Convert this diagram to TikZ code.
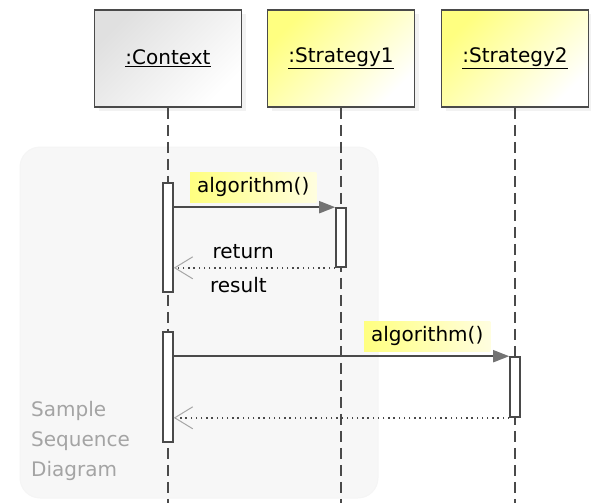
\documentclass[tikz,border=0pt]{standalone}
\usepackage{fontspec}
\setmainfont{DejaVu Sans}
\usetikzlibrary{arrows.meta,shadows}

\definecolor{umlline}{HTML}{4A4A4A}
\definecolor{umlyellow}{HTML}{FFFF80}
\definecolor{umlpale}{HTML}{FFFEE0}
\definecolor{umlgray}{HTML}{E0E0E0}
\definecolor{umlback}{HTML}{F7F7F7}
\definecolor{umlnote}{HTML}{A4A4A4}

\begin{document}
\begin{tikzpicture}[
  x=1pt,y=-1pt,
  font=\fontsize{20}{24}\selectfont,
  object/.style={draw=umlline,line width=1.8pt,minimum width=147pt,minimum height=97pt,
                 inner sep=0pt,drop shadow={shadow xshift=4pt,shadow yshift=-4pt,opacity=0.1}},
  client/.style={object,top color=umlgray,middle color=black!2,bottom color=white,shading angle=45},
  strategy/.style={object,top color=umlyellow,middle color=umlpale!60!white,bottom color=white,shading angle=45},
  lifeline/.style={draw=umlline,line width=2pt,dash pattern=on 11pt off 6pt},
  bar/.style={draw=umlline,fill=white,line width=1.6pt,minimum width=10pt,inner sep=0pt},
  call/.style={draw=umlline,line width=1.8pt,
               -{Triangle[length=16pt,width=12pt,color=black!55]}},
  reply/.style={draw=umlline,line width=1.6pt,dash pattern=on 1.5pt off 3.7pt,
                -{Straight Barb[length=18pt,width=22pt,line width=1pt,color=black!35]}},
  msg/.style={left color=umlyellow,right color=umlpale,inner xsep=7pt,minimum height=30pt,
              anchor=south east,xshift=-18pt,yshift=4pt},
  note/.style={text=umlnote,align=left,anchor=north west,inner sep=0pt,
               font=\fontsize{20}{30}\selectfont},
  backdrop/.style={fill=umlback,draw=black!4,line width=1pt,rounded corners=20pt}
]
\useasboundingbox (0,0) rectangle (591,503);

% sample frame behind the diagram
\node[backdrop,minimum width=358pt,minimum height=351pt] (frame) at (199,322.5) {};
\node[note] (caption) at (31,401) {Sample\\Sequence\\Diagram};

% objects and lifelines
\node[client] (ctx) at (168,58.5) {\underline{:Context}};
\node[strategy] (st1) at (341,58.5) {\underline{:Strategy1}};
\node[strategy] (st2) at (515,58.5) {\underline{:Strategy2}};
\coordinate (ctx end) at (168,503);
\coordinate (st1 end) at (341,503);
\coordinate (st2 end) at (515,503);
\draw[lifeline] (ctx) -- (ctx end);
\draw[lifeline] (st1) -- (st1 end);
\draw[lifeline] (st2) -- (st2 end);

% activations
\node[bar,minimum height=109pt] (ctxA) at (168,237.5) {};
\node[bar,minimum height=110pt] (ctxB) at (168,387) {};
\node[bar,minimum height=59pt] (st1A) at (341,237.5) {};
\node[bar,minimum height=60pt] (st2A) at (515,387) {};

% messages
\draw[call] (ctxA.east |- st1A.north) -- node[msg,pos=1] {algorithm()} (st1A.north west);
\draw[reply] (st1A.south west) -- node[above=5pt,pos=.57] {return}
  node[below=5pt,pos=.6] {result} (ctxA.east |- st1A.south);
\draw[call] (ctxB.east |- st2A.north) -- node[msg,pos=1] {algorithm()} (st2A.north west);
\draw[reply] (st2A.south west) -- (ctxB.east |- st2A.south);
\end{tikzpicture}
\end{document}
